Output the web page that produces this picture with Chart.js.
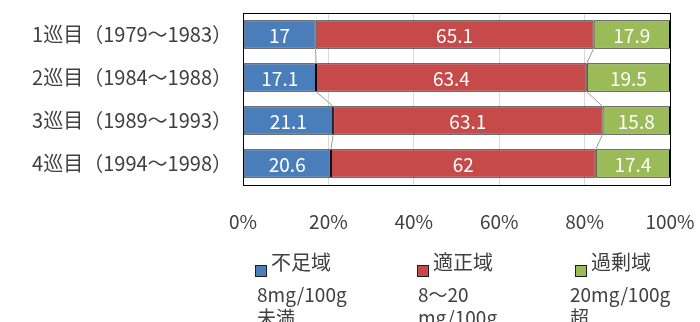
<!DOCTYPE html>
<html>
<head>
<meta charset="utf-8">
<script src="https://cdn.jsdelivr.net/npm/chart.js@4"></script>
<style>
  html, body { margin: 0; padding: 0; background: #fff; }
  #wrap { width: 700px; height: 322px; }
</style>
</head>
<body>
<div id="wrap"><canvas id="ironChart" width="700" height="322"></canvas></div>
<script>
// 調査期間ごとの割合（%）
const periods = ['1巡目（1979～1983）', '2巡目（1984～1988）', '3巡目（1989～1993）', '4巡目（1994～1998）'];
const shortage = [17, 17.1, 21.1, 20.6];
const adequate = [65.1, 63.4, 63.1, 62];
const excess = [17.9, 19.5, 15.8, 17.4];
const seriesNames = ['不足域', '適正域', '過剰域'];
const seriesNotes = [['8mg/100g', '未満'], ['8～20', 'mg/100g'], ['20mg/100g', '超']];
const percentTicks = [0, 20, 40, 60, 80, 100];

const FONT = '"Noto Sans CJK JP", "Noto Sans", sans-serif';
const TEXT = '#404040';
const colors = ['#4A7EBB', '#C64A4A', '#9BBB59'];

// 枠線・区分線・数値・凡例
const extras = {
    id: 'extras',
    afterDatasetsDraw(chart) {
        const ctx = chart.ctx;
        const a = chart.chartArea;
        ctx.save();

        // 区分線（各境界を次の帯とつなぐ）
        ctx.strokeStyle = '#9a9a9a';
        ctx.lineWidth = 1;
        [0, 1].forEach(d => {
            const bars = chart.getDatasetMeta(d).data;
            for (let i = 0; i < bars.length - 1; i++) {
                const p = bars[i], q = bars[i + 1];
                ctx.beginPath();
                ctx.moveTo(p.x, p.y + p.height / 2);
                ctx.lineTo(q.x, q.y - q.height / 2);
                ctx.stroke();
            }
        });

        // 数値ラベル
        ctx.fillStyle = '#fff';
        ctx.font = '19px ' + FONT;
        ctx.textAlign = 'center';
        ctx.textBaseline = 'middle';
        chart.data.datasets.forEach((ds, d) => {
            chart.getDatasetMeta(d).data.forEach((bar, i) => {
                ctx.fillText(String(ds.data[i]), (bar.x + bar.base) / 2, bar.y + 1);
            });
        });

        // プロットエリアの枠
        ctx.strokeStyle = '#000';
        ctx.strokeRect(a.left + 0.5, a.top + 0.5, a.right - a.left, a.bottom - a.top);
        ctx.restore();
    },
    afterDraw(chart) {
        const ctx = chart.ctx;
        const cols = [255, 417, 575];
        const noteX = [257, 418, 570];
        ctx.save();
        ctx.textAlign = 'left';
        ctx.textBaseline = 'middle';
        chart.data.datasets.forEach((ds, d) => {
            const x = cols[d];
            ctx.fillStyle = ds.backgroundColor;
            ctx.fillRect(x, 265, 12, 12);
            ctx.strokeStyle = '#1f1f1f';
            ctx.lineWidth = 1;
            ctx.strokeRect(x + 0.5, 265.5, 11, 11);
            ctx.fillStyle = TEXT;
            ctx.font = '20px ' + FONT;
            ctx.fillText(seriesNames[d], x + 16, 262);
            ctx.font = '19px ' + FONT;
            ctx.fillText(seriesNotes[d][0], noteX[d], 295);
            ctx.fillText(seriesNotes[d][1], noteX[d], 318);
        });
        ctx.restore();
    }
};

const makeSet = (i, values) => ({
    label: seriesNames[i],
    data: values,
    backgroundColor: colors[i],
    borderColor: '#000',
    borderWidth: 1,
    borderSkipped: false,
    categoryPercentage: 1,
    barPercentage: 0.66
});

new Chart(document.getElementById('ironChart'), {
    type: 'bar',
    data: {
        labels: periods,
        datasets: [makeSet(0, shortage), makeSet(1, adequate), makeSet(2, excess)]
    },
    options: {
        indexAxis: 'y',
        responsive: false,
        animation: false,
        layout: { padding: { top: 13, right: 30, bottom: 85, left: 0 } },
        plugins: {
            legend: { display: false },
            tooltip: { enabled: false }
        },
        scales: {
            x: {
                stacked: true,
                min: 0,
                max: 100,
                afterBuildTicks: s => { s.ticks = percentTicks.map(v => ({ value: v })); },
                afterFit: s => {
                    s.height = 52;
                    s.paddingLeft = 0;
                    s.paddingRight = 0;
                },
                grid: { color: '#d9d9d9', drawTicks: false },
                border: { display: false },
                ticks: {
                    color: TEXT,
                    font: { family: FONT, size: 19 },
                    padding: 25,
                    maxRotation: 0,
                    callback: v => v + '%'
                }
            },
            y: {
                stacked: true,
                afterFit: s => {
                    s.width = 243;
                    s.paddingTop = 0;
                    s.paddingBottom = 0;
                },
                grid: { display: false, drawTicks: false },
                border: { display: false },
                ticks: {
                    color: TEXT,
                    font: { family: FONT, size: 20 },
                    padding: 11
                }
            }
        }
    },
    plugins: [extras]
});
</script>
</body>
</html>
